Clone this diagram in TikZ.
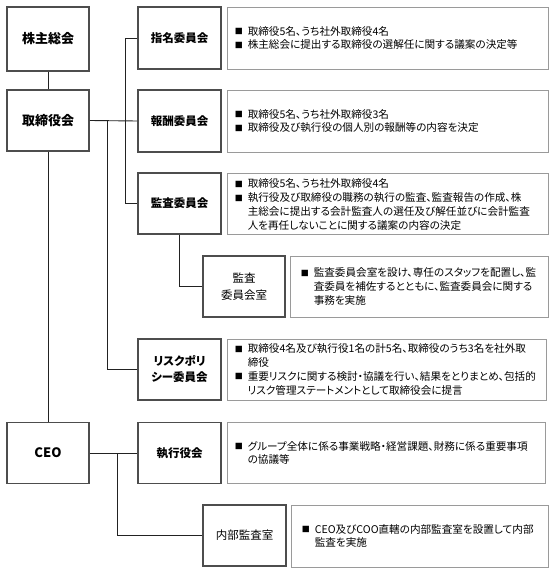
\documentclass[tikz,border=0pt]{standalone}
\usepackage{fontspec}
\setmainfont{Noto Sans CJK JP}[RawFeature=+palt]
\definecolor{mainborder}{HTML}{4D4D4D}
\definecolor{detborder}{HTML}{9A9A9A}
\definecolor{conn}{HTML}{222222}
\newcommand{\bu}{\makebox[13pt][l]{\raisebox{0.5pt}{\fontsize{8}{8}\selectfont ■}}}
\newcommand{\hi}{\hspace*{13pt}}
\tikzset{
  mainbox/.style={draw=mainborder, line width=1.6pt, fill=white, inner sep=0pt,
    minimum width=82pt, minimum height=61pt, align=center,
    font=\fontsize{11.5}{16}\selectfont\bfseries},
  topbox/.style={mainbox, font=\fontsize{13}{16}\selectfont\bfseries},
  plainbox/.style={mainbox, font=\fontsize{11.5}{16.5}\selectfont},
  detbox/.style={draw=detborder, line width=0.9pt, fill=white, inner sep=0pt,
    minimum height=61pt},
  dettext/.style={anchor=west, align=left, inner sep=0pt,
    font=\fontsize{10.6}{13.7}\selectfont},
  connector/.style={draw=conn, line width=0.9pt}
}
\begin{document}
\begin{tikzpicture}[x=1pt,y=-1pt]
\useasboundingbox (0,0) rectangle (553,572);
\fill[white] (0,0) rectangle (553,572);

% left column
\node[topbox, minimum height=64pt] (kab) at (48,39) {株主総会};
\node[topbox] (tori) at (48,120.5) {取締役会};
\node[topbox] (ceo) at (48,453) {CEO};

% committees
\node[mainbox, minimum width=83pt, minimum height=62pt] (shimei) at (179.5,38) {指名委員会};
\node[mainbox, minimum width=83pt, minimum height=62pt] (hoshu) at (179.5,121) {報酬委員会};
\node[mainbox, minimum width=83pt] (kansa) at (179.5,203.5) {監査委員会};
\node[plainbox] (kshitsu) at (244,286.5) {監査\\委員会室};
\node[mainbox, minimum width=83pt] (risk) at (179.5,369.5) {リスクポリ\\シー委員会};
\node[mainbox, minimum width=83pt] (shikko) at (179.5,453) {執行役会};
\node[plainbox, minimum width=83pt] (naibu) at (244.5,535.5) {内部監査室};

% detail boxes
\node[detbox, minimum width=321pt, minimum height=62pt] (d1) at (387.5,38) {};
\node[detbox, minimum width=321pt, minimum height=62pt] (d2) at (387.5,121) {};
\node[detbox, minimum width=321pt] (d3) at (387.5,203.5) {};
\node[detbox, minimum width=258pt] (d4) at (419,286.5) {};
\node[detbox, minimum width=319pt] (d5) at (386.5,369.5) {};
\node[detbox, minimum width=318pt] (d6) at (386,453) {};
\node[detbox, minimum width=257pt, minimum height=62pt] (d7) at (419.5,536) {};

\node[dettext] (t1) at ([xshift=8pt]d1.west) {\bu 取締役5名、うち社外取締役4名\\\bu 株主総会に提出する取締役の選解任に関する議案の決定等};
\node[dettext] (t2) at ([xshift=8pt]d2.west) {\bu 取締役5名、うち社外取締役3名\\\bu 取締役及び執行役の個人別の報酬等の内容を決定};
\node[dettext] (t3) at ([xshift=8pt,yshift=-1pt]d3.west) {\bu 取締役5名、うち社外取締役4名\\\bu 執行役及び取締役の職務の執行の監査、監査報告の作成、株\\\hi 主総会に提出する会計監査人の選任及び解任並びに会計監査\\\hi 人を再任しないことに関する議案の内容の決定};
\node[dettext] (t4) at ([xshift=11pt]d4.west) {\bu 監査委員会室を設け、専任のスタッフを配置し、監\\\hi 査委員を補佐するとともに、監査委員会に関する\\\hi 事務を実施};
\node[dettext] (t5) at ([xshift=8pt]d5.west) {\bu 取締役4名及び執行役1名の計5名、取締役のうち3名を社外取\\\hi 締役\\\bu 重要リスクに関する検討・協議を行い、結果をとりまとめ、包括的\\\hi リスク管理ステートメントとして取締役会に提言};
\node[dettext] (t6) at ([xshift=8pt]d6.west) {\bu グループ全体に係る事業戦略・経営課題、財務に係る重要事項\\\hi の協議等};
\node[dettext] (t7) at ([xshift=11pt]d7.west) {\bu CEO及びCOO直轄の内部監査室を設置して内部\\\hi 監査を実施};

% junction coordinates
\coordinate (j1) at (107,121);
\coordinate (j2) at (125,38);
\coordinate (j3) at (117,453);

% connectors
\path[connector] (kab.south) -- (tori.north);
\path[connector] (tori.south) -- (ceo.north);
\path[connector] (tori.east) -- (hoshu.west);
\path[connector] (j1) |- (risk.west);
\path[connector] (shimei.west) -- (j2) |- (kansa.west);
\path[connector] (kansa.south) |- (kshitsu.west);
\path[connector] (ceo.east) -- (shikko.west);
\path[connector] (j3) |- (naibu.west);
\end{tikzpicture}
\end{document}
